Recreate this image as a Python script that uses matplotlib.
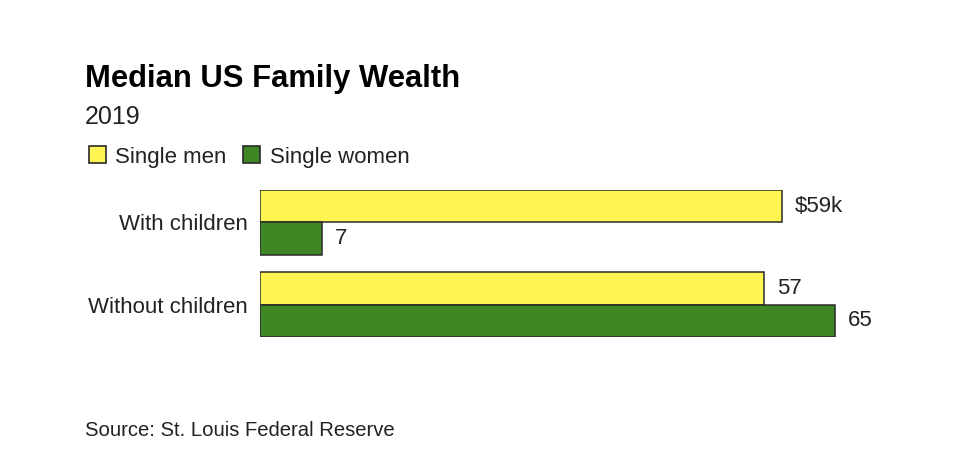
import matplotlib
matplotlib.use("Agg")
import matplotlib.pyplot as plt
from matplotlib.patches import Rectangle
import numpy as np

plt.rcParams['font.family'] = ['Liberation Sans', 'DejaVu Sans']

categories = ["With children", "Without children"]
series_names = ["Single men", "Single women"]
single_men = [59, 57]
single_women = [7, 65]
value_labels_men = ["$59k", "57"]
value_labels_women = ["7", "65"]

YELLOW = "#FFF552"
GREEN = "#3E8722"
EDGE = "#2a2a2a"
TEXT = "#222222"

W, H = 980, 451
fig = plt.figure(figsize=(W / 100, H / 100), dpi=100)
fig.patch.set_facecolor("white")

def fx(px):
    return px / W

def fy(py):
    return 1 - py / H

# axes in pixel geometry
ax_left, ax_right = 260, 900
ax_top, ax_bottom = 190, 337
ax = fig.add_axes([fx(ax_left), fy(ax_bottom), (ax_right - ax_left) / W, (ax_bottom - ax_top) / H])
px_per_unit = 8.85
ax.set_xlim(0, (ax_right - ax_left) / px_per_unit)
h = 0.394
ax.set_ylim(1 + h, -h)

y = np.arange(len(categories))
ax.barh(y - h / 2, single_men, height=h, color=YELLOW, edgecolor=EDGE, linewidth=1.1)
ax.barh(y + h / 2, single_women, height=h, color=GREEN, edgecolor=EDGE, linewidth=1.1)

for i in range(len(categories)):
    ax.annotate(value_labels_men[i], (single_men[i], y[i] - h / 2), xytext=(13, 0),
                textcoords="offset pixels", va="center", ha="left", fontsize=16, color=TEXT)
    ax.annotate(value_labels_women[i], (single_women[i], y[i] + h / 2), xytext=(13, 0),
                textcoords="offset pixels", va="center", ha="left", fontsize=16, color=TEXT)

ax.set_yticks(y)
ax.set_yticklabels(categories, fontsize=16, color=TEXT)
ax.tick_params(axis="y", length=0, pad=9)
ax.set_xticks([])
for s in ax.spines.values():
    s.set_visible(False)

# Title and subtitle
fig.text(fx(85), fy(87), "Median US Family Wealth", fontsize=22.3, fontweight="bold",
         color="#000000", ha="left", va="baseline")
fig.text(fx(85), fy(124), "2019", fontsize=18, color=TEXT, ha="left", va="baseline")

# Legend
leg_items = [(89, 115, YELLOW, series_names[0]), (243, 270, GREEN, series_names[1])]
for sx, tx, col, lab in leg_items:
    fig.patches.append(Rectangle((fx(sx), fy(163)), 17 / W, 17 / H, transform=fig.transFigure,
                                 facecolor=col, edgecolor=EDGE, linewidth=1.2))
    fig.text(fx(tx), fy(163), lab, fontsize=16, color=TEXT, ha="left", va="baseline")

# Source
fig.text(fx(85), fy(436), "Source: St. Louis Federal Reserve", fontsize=14.6, color=TEXT,
         ha="left", va="baseline")

fig.savefig("out.png", dpi=100, facecolor="white")
